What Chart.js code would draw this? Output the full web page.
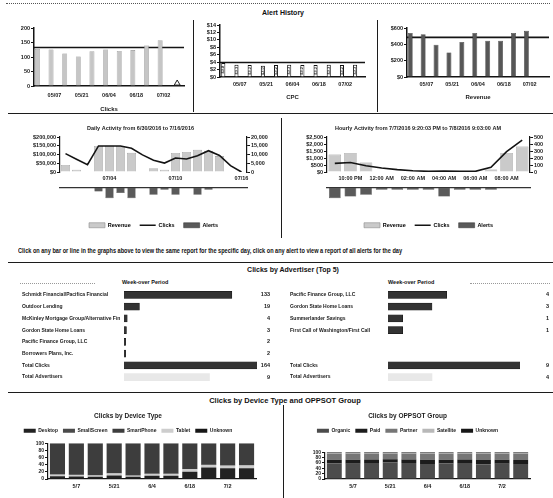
<!DOCTYPE html>
<html>
<head>
<meta charset="utf-8">
<title>Alert History</title>
<script src="https://cdn.jsdelivr.net/npm/chart.js@4.4.1/dist/chart.umd.min.js"></script>
<style>
  html,body{margin:0;padding:0;background:#fff;}
  body{position:relative;width:553px;height:498px;overflow:hidden;font-family:"Liberation Sans",Arial,sans-serif;color:#111;}
  canvas{position:absolute;display:block;}
  .rule{position:absolute;height:0;border-top:1.5px solid #1c1c1c;}
  .rule.thin{border-top:1px dotted #555;}
  .dots{position:absolute;height:0;border-top:1px dotted #999;}
  .vrule{position:absolute;width:0;border-left:1.5px solid #1c1c1c;}
  .txt{position:absolute;white-space:nowrap;line-height:1;color:#111;}
  .head{font-weight:bold;text-align:center;}
  .narrow{font-family:"Liberation Sans Narrow","Liberation Sans",Arial,sans-serif;font-weight:bold;}
</style>
</head>
<body>
<div class="rule thin" style="left:6px;top:3px;width:544px"></div>
<div class="txt head" style="left:233px;top:9px;width:100px;font-size:7px">Alert History</div>

<canvas id="cClicks" width="184" height="96" style="left:6px;top:18px"></canvas>
<div class="vrule" style="left:193px;top:20px;height:92px"></div>
<canvas id="cCpc" width="178" height="86" style="left:196px;top:18px"></canvas>
<div class="vrule" style="left:377px;top:20px;height:92px"></div>
<canvas id="cRevenue" width="172" height="86" style="left:381px;top:18px"></canvas>
<div class="rule" style="left:8px;top:113px;width:545px"></div>

<canvas id="cDaily" width="281" height="66" style="left:0px;top:118px"></canvas>
<canvas id="cDailyAlerts" width="281" height="54" style="left:0px;top:184px"></canvas>
<div class="vrule" style="left:281px;top:118px;height:120px"></div>
<canvas id="cHourly" width="270" height="66" style="left:283px;top:118px"></canvas>
<canvas id="cHourlyAlerts" width="270" height="54" style="left:283px;top:184px"></canvas>

<div id="note" class="txt narrow" style="left:18px;top:247px;font-size:7px;transform-origin:0 50%">Click on any bar or line in the graphs above to view the same report for the specific day, click on any alert to view a report of all alerts for the day</div>
<div class="rule" style="left:8px;top:262px;width:545px"></div>
<div class="txt head" style="left:213px;top:266px;width:160px;font-size:7px">Clicks by Advertiser (Top 5)</div>

<div class="dots" style="left:20px;top:283px;width:75px"></div>
<div class="txt narrow" style="left:122px;top:280px;font-size:5.5px">Week-over Period</div>
<div class="dots" style="left:470px;top:283px;width:80px"></div>
<div class="txt narrow" style="left:388px;top:280px;font-size:5.5px">Week-over Period</div>
<canvas id="cAdvLeft" width="256" height="100" style="left:18px;top:286px"></canvas>
<canvas id="cAdvRight" width="267" height="100" style="left:286px;top:286px"></canvas>

<div class="rule" style="left:8px;top:392px;width:545px"></div>
<div class="txt head" style="left:185px;top:397px;width:200px;font-size:7.5px">Clicks by Device Type and OPPSOT Group</div>
<div class="vrule" style="left:283px;top:405px;height:93px"></div>
<canvas id="cDevice" width="281" height="90" style="left:0px;top:408px"></canvas>
<canvas id="cGroup" width="268" height="90" style="left:285px;top:408px"></canvas>

<script>
// ---- weekly alert history ----
const weeks = ['04/30','05/07','05/14','05/21','05/28','06/04','06/11','06/18','06/25','07/02','07/09'];
const weekClicks = [128,126,112,102,120,126,121,124,140,158,2];
const weekClicksAvg = 133;
const weekAlertMarks = [null,null,null,null,null,null,null,null,null,null,9];
const weekCpc = [3.8,3.3,3.2,3.0,3.2,3.3,3.2,3.2,3.3,3.2,3.3];
const weekCpcAvg = 3.9;
const weekRevenue = [540,525,395,300,430,540,445,445,540,565,8];
const weekRevenueAvg = 485;

// ---- daily activity ----
const days = ['06/30','07/01','07/02','07/03','07/04','07/05','07/06','07/07','07/08','07/09','07/10','07/11','07/12','07/13','07/14','07/15','07/16'];
const dayRevenue = [40000,13000,0,149000,150000,149000,110000,0,22000,13000,109000,115000,127000,122000,91000,0,0];
const dayClicks = [10500,7300,4200,14900,14900,14900,13600,9800,6700,5100,8000,7450,9300,12200,9450,3600,0];
const dayAlerts = [0,0,0,2,6,3,6,0,4,1,4,0,4,1,0,0,0];

// ---- hourly activity ----
const hours = ['09:00 PM','10:00 PM','11:00 PM','12:00 AM','01:00 AM','02:00 AM','03:00 AM','04:00 AM','05:00 AM','06:00 AM','07:00 AM','08:00 AM','09:00 AM'];
const hourRevenue = [1250,1360,680,0,0,0,0,0,0,0,180,1360,1820];
const hourClicks = [123,136,90,57,34,18,9,14,11,9,68,290,455];
const hourAlerts = [6,5,4,1,1,1,1,5,1,1,1,0,0];

// ---- clicks by advertiser ----
const advLeftNames = ['Schmidt Financial/Pacifica Financial','Outdoor Lending','McKinley Mortgage Group/Alternative Fin','Gordon State Home Loans','Pacific Finance Group, LLC','Borrowers Plans, Inc.','Total Clicks','Total Advertisers'];
const advLeftClicks = [133,19,4,3,2,2,164,null];
const advLeftCount = [null,null,null,null,null,null,null,9];
const advRightNames = ['Pacific Finance Group, LLC','Gordon State Home Loans','Summerlander Savings','First Call of Washington/First Call','','','Total Clicks','Total Advertisers'];
const advRightClicks = [4,3,1,1,null,null,9,null];
const advRightCount = [null,null,null,null,null,null,null,4];

// ---- device type / OPPSOT group (share of clicks, %) ----
const weekShort = ['4/30','5/7','5/14','5/21','5/28','6/4','6/11','6/18','6/25','7/2','7/9'];
const devDesktop     = [8,7,6,10,6,9,9,20,32,30,30];
const devSmallScreen = [1,1,1,1,1,1,1,1,1,1,1];
const devSmartPhone  = [85,86,87,82,88,83,83,70,58,60,59];
const devTablet      = [4,4,4,5,3,5,5,7,7,7,8];
const devUnknown     = [2,2,2,2,2,2,2,2,2,2,2];
const deviceOrder = ['Desktop','SmallScreen','SmartPhone','Tablet','Unknown'];
const grpOrganic   = [58,57,60,62,60,56,58,60,55,57,56];
const grpPaid      = [14,15,13,12,13,16,14,13,16,15,15];
const grpPartner   = [22,22,21,20,21,22,22,21,23,22,23];
const grpSatellite = [2,2,2,2,2,2,2,2,2,2,2];
const grpUnknown   = [4,4,4,4,4,4,4,4,4,4,4];
const groupOrder = ['Organic','Paid','Partner','Satellite','Unknown'];

// ---- styling ----
const INK = '#141414';
const REV_LIGHT = '#cacaca', REV_LIGHT_EDGE = '#8c8c8c';
const ALERT_FILL = '#5a5a5a', ALERT_EDGE = '#2a2a2a';
const SANS = "'Liberation Sans', Arial, sans-serif";
const NARROW = "'Liberation Sans Narrow', 'Liberation Sans', Arial, sans-serif";

Chart.defaults.responsive = false;
Chart.defaults.animation = false;
Chart.defaults.events = [];
Chart.defaults.font.family = SANS;
Chart.defaults.font.size = 5.5;
Chart.defaults.font.weight = 'bold';
Chart.defaults.font.lineHeight = 1.1;
Chart.defaults.color = '#1a1a1a';
Chart.defaults.plugins.legend.display = false;
Chart.defaults.plugins.tooltip.enabled = false;

const money = v => '$' + Number(v).toLocaleString('en-US');
const plain = v => Number(v).toLocaleString('en-US');
function everyOther(value, index) { return index % 2 === 1 ? this.getLabelForValue(value) : ''; }

// writes each bar's value, turned sideways, inside the bar
const barText = {
  id: 'barText',
  afterDatasetsDraw(chart, args, opts) {
    if (!opts.show) return;
    const ctx = chart.ctx;
    const ds = chart.data.datasets[0];
    ctx.save();
    ctx.font = 'bold 4px ' + SANS;
    ctx.fillStyle = '#333';
    ctx.textAlign = 'center';
    ctx.textBaseline = 'middle';
    chart.getDatasetMeta(0).data.forEach((bar, i) => {
      ctx.save();
      ctx.translate(bar.x, (bar.y + bar.base) / 2);
      ctx.rotate(-Math.PI / 2);
      ctx.fillText('$' + ds.data[i].toFixed(1), 0, 0);
      ctx.restore();
    });
    ctx.restore();
  }
};

function weeklyChart(id, o) {
  const datasets = [
    { type: 'bar', data: o.values, backgroundColor: o.fill, borderColor: o.edge, borderWidth: o.edgeW,
      barPercentage: o.barPct, categoryPercentage: 1, order: 1 },
    { type: 'line', xAxisID: 'xFull', data: [{ x: 0, y: o.avg }, { x: 1, y: o.avg }],
      borderColor: INK, borderWidth: 1.6, pointRadius: 0, order: o.lineOrder }
  ].concat(o.extra || []);
  return new Chart(document.getElementById(id), {
    data: { labels: weeks, datasets },
    plugins: [barText],
    options: {
      layout: { padding: o.pad },
      plugins: { barText: { show: !!o.valueText } },
      scales: {
        x: { type: 'category', offset: true, grid: { display: false, drawTicks: false }, border: { color: INK, width: 1.5 },
             ticks: { autoSkip: false, maxRotation: 0, padding: o.tickPad, callback: everyOther },
             title: { display: true, text: o.title, font: { size: 6, weight: 'bold' }, padding: { top: 0, bottom: o.titleBottom } },
             afterFit(s) { s.height = o.xH; } },
        xFull: { type: 'linear', display: false, min: 0, max: 1 },
        y: { min: 0, max: o.max, border: { color: INK, width: 1.5 },
             grid: { drawOnChartArea: false, tickLength: 3, color: INK },
             ticks: { stepSize: o.step, autoSkip: false, padding: 1, callback: o.fmt, font: { lineHeight: 1 } },
             afterFit(s) { s.width = o.yW; } }
      }
    }
  });
}

weeklyChart('cClicks', {
  values: weekClicks, avg: weekClicksAvg, fill: '#c6c6c6', edge: '#8a8a8a', edgeW: 0.6, barPct: 0.72,
  lineOrder: 2, max: 200, step: 50, fmt: plain, title: 'Clicks',
  pad: { top: 10, right: 6, left: 0, bottom: 0 }, yW: 28, xH: 28, tickPad: 6, titleBottom: 1,
  extra: [{ type: 'line', data: weekAlertMarks, showLine: false, pointStyle: 'triangle', pointRadius: 3.4,
            pointBackgroundColor: '#fff', pointBorderColor: '#222', pointBorderWidth: 1, order: 0 }]
});
weeklyChart('cCpc', {
  values: weekCpc, avg: weekCpcAvg, fill: '#ffffff', edge: '#111', edgeW: 1, barPct: 0.62,
  lineOrder: 0, max: 14, step: 2, fmt: money, title: 'CPC', valueText: true,
  pad: { top: 7, right: 9, left: 0, bottom: 0 }, yW: 24, xH: 27, tickPad: 4, titleBottom: 3
});
weeklyChart('cRevenue', {
  values: weekRevenue, avg: weekRevenueAvg, fill: '#575757', edge: '#2e2e2e', edgeW: 0.6, barPct: 0.76,
  lineOrder: 2, max: 600, step: 200, fmt: money, title: 'Revenue',
  pad: { top: 10, right: 4, left: 0, bottom: 0 }, yW: 26, xH: 27, tickPad: 4, titleBottom: 3
});

function activityChart(id, o) {
  return new Chart(document.getElementById(id), {
    data: { labels: o.labels, datasets: [
      { type: 'line', label: 'Clicks', data: o.clicks, yAxisID: 'y1', borderColor: INK, borderWidth: 1.6,
        pointRadius: 0, tension: 0, order: 0 },
      { type: 'bar', label: 'Revenue', data: o.revenue, yAxisID: 'y', backgroundColor: REV_LIGHT,
        borderColor: REV_LIGHT_EDGE, borderWidth: 0.6, barPercentage: 0.8, categoryPercentage: 1, order: 1 }
    ]},
    options: {
      layout: { padding: 0 },
      plugins: { title: { display: true, text: o.title, color: '#1a1a1a', font: { size: 5.5, weight: 'bold' }, padding: { top: 7, bottom: 6 } } },
      scales: {
        x: { grid: { display: false, drawTicks: false }, border: { display: false },
             ticks: { autoSkip: false, maxRotation: 0, padding: 3, callback: o.tick }, afterFit(s) { s.height = 12; } },
        y: { position: 'left', min: 0, max: o.revMax, border: { color: INK, width: 1.2 },
             grid: { drawOnChartArea: false, tickLength: 3, color: INK },
             ticks: { stepSize: o.revStep, padding: 1, autoSkip: false, callback: money, font: { lineHeight: 1 } },
             afterFit(s) { s.width = o.leftW; } },
        y1: { position: 'right', min: 0, max: o.clickMax, border: { color: INK, width: 1.2 },
              grid: { drawOnChartArea: false, tickLength: 3, color: INK },
              ticks: { stepSize: o.clickStep, padding: 1, autoSkip: false, callback: plain, font: { lineHeight: 1 } },
              afterFit(s) { s.width = o.rightW; } }
      }
    }
  });
}

function alertsStrip(id, o) {
  return new Chart(document.getElementById(id), {
    type: 'bar',
    data: { labels: o.labels, datasets: [
      { label: 'Alerts', data: o.alerts, backgroundColor: ALERT_FILL, borderColor: ALERT_EDGE, borderWidth: 0.5,
        barPercentage: 0.75, categoryPercentage: 1 }
    ]},
    options: {
      layout: { padding: { left: o.leftW, right: o.rightW, top: 4, bottom: 0 } },
      plugins: {
        legend: { display: true, position: 'bottom',
          labels: { usePointStyle: true, pointStyleWidth: 16, boxHeight: 5, padding: 9, color: '#1a1a1a',
                    font: { size: 5.5, weight: 'bold' },
                    generateLabels: () => [
                      { text: 'Revenue', fillStyle: REV_LIGHT, strokeStyle: REV_LIGHT_EDGE, lineWidth: 0.6, pointStyle: 'rect', hidden: false, datasetIndex: 0 },
                      { text: 'Clicks', fillStyle: INK, strokeStyle: INK, lineWidth: 1.6, pointStyle: 'line', hidden: false, datasetIndex: 1 },
                      { text: 'Alerts', fillStyle: ALERT_FILL, strokeStyle: ALERT_EDGE, lineWidth: 0.5, pointStyle: 'rect', hidden: false, datasetIndex: 2 }
                    ] } }
      },
      scales: {
        x: { position: 'top', grid: { display: false, drawTicks: false }, ticks: { display: false },
             border: { color: '#333', width: 1.2 } },
        y: { display: false, reverse: true, min: 0, max: 15 }
      }
    }
  });
}

activityChart('cDaily', {
  labels: days, clicks: dayClicks, revenue: dayRevenue,
  title: 'Daily Activity from 6/30/2016 to 7/16/2016',
  revMax: 200000, revStep: 50000, clickMax: 20000, clickStep: 5000, leftW: 60, rightW: 34,
  tick(value, index) { return (days.length - 1 - index) % 6 === 0 ? this.getLabelForValue(value) : ''; }
});
alertsStrip('cDailyAlerts', { labels: days, alerts: dayAlerts, leftW: 60, rightW: 34 });

activityChart('cHourly', {
  labels: hours, clicks: hourClicks, revenue: hourRevenue,
  title: 'Hourly Activity from 7/7/2016 9:20:03 PM to 7/8/2016 9:03:00 AM',
  revMax: 2500, revStep: 500, clickMax: 500, clickStep: 100, leftW: 44, rightW: 23,
  tick: everyOther
});
alertsStrip('cHourlyAlerts', { labels: hours, alerts: hourAlerts, leftW: 44, rightW: 23 });

// squeeze the instruction line to its column width
(function () {
  const note = document.getElementById('note');
  const w = note.getBoundingClientRect().width;
  note.style.transform = 'scaleX(' + (384 / w) + ')';
})();

function advertiserChart(id, o) {
  const valueText = o.clicks.map((c, i) => String(c ?? o.count[i] ?? ''));
  return new Chart(document.getElementById(id), {
    type: 'bar',
    data: { labels: o.names, datasets: [
      { data: o.clicks, xAxisID: 'x', yAxisID: 'y', backgroundColor: '#333', borderColor: '#111', borderWidth: 0.5,
        barThickness: 7, grouped: false },
      { data: o.count, xAxisID: 'xCount', yAxisID: 'y', backgroundColor: '#e8e8e8', barThickness: 7, grouped: false }
    ]},
    options: {
      indexAxis: 'y',
      layout: { padding: { left: 4, right: 4, top: 2, bottom: 0 } },
      scales: {
        x: { display: false, min: 0, max: o.max },
        xCount: { display: false, min: 0, max: o.countMax },
        y: { grid: { display: false }, border: { display: false },
             ticks: { crossAlign: 'far', autoSkip: false, padding: 0, font: { size: 5, family: NARROW } },
             afterFit(s) { s.width = o.labelW; } },
        yVal: { type: 'category', position: 'right', labels: valueText, offset: true,
                grid: { display: false }, border: { display: false },
                ticks: { crossAlign: 'far', autoSkip: false, padding: 0, font: { size: 5.5 } },
                afterFit(s) { s.width = o.valueW; } }
      }
    }
  });
}

advertiserChart('cAdvLeft', { names: advLeftNames, clicks: advLeftClicks, count: advLeftCount,
  max: 164, countMax: 14, labelW: 102, valueW: 13 });
advertiserChart('cAdvRight', { names: advRightNames, clicks: advRightClicks, count: advRightCount,
  max: 9, countMax: 12, labelW: 98, valueW: 29 });

function shareChart(id, o) {
  const series = o.series.map(s => Object.assign({ xAxisID: 'x', yAxisID: 'y' }, s));
  return new Chart(document.getElementById(id), {
    type: 'bar',
    data: { labels: weekShort, datasets: series },
    options: {
      datasets: { bar: { barPercentage: 0.8, categoryPercentage: 1 } },
      layout: { padding: { left: 0, right: o.right, top: 0, bottom: 0 } },
      plugins: {
        title: { display: true, text: o.title, color: '#1a1a1a', font: { size: 6.5, weight: 'bold' }, padding: { top: 5, bottom: 3 } },
        legend: { display: true, position: 'top',
          labels: { boxWidth: 12, boxHeight: 4, padding: 5, color: '#1a1a1a', font: { size: 5, weight: 'bold' },
                    sort: (a, b) => o.order.indexOf(a.text) - o.order.indexOf(b.text) } }
      },
      scales: {
        x: { stacked: true, grid: { display: false, drawTicks: false }, border: { color: INK, width: 1.2 },
             ticks: { autoSkip: false, maxRotation: 0, padding: 4, callback: everyOther, font: { size: 5.5 } },
             afterFit(s) { s.height = 19; } },
        y: { stacked: true, min: 0, max: 100, border: { color: INK, width: 1.2 },
             grid: { drawOnChartArea: false, tickLength: 3, color: INK },
             ticks: { stepSize: 20, autoSkip: false, padding: 1, font: { size: 5, lineHeight: 1 } },
             afterFit(s) { s.width = o.yW; } },
        gap: { type: 'category', position: 'top', display: true, grid: { display: false, drawTicks: false },
               border: { display: false }, ticks: { display: false }, afterFit(s) { s.height = o.gap; } }
      }
    }
  });
}

shareChart('cDevice', {
  title: 'Clicks by Device Type', order: deviceOrder, right: 25, yW: 48, gap: 0,
  series: [
    { label: 'Desktop', data: devDesktop, backgroundColor: '#222' },
    { label: 'Tablet', data: devTablet, backgroundColor: '#cdcdcd' },
    { label: 'SmallScreen', data: devSmallScreen, backgroundColor: '#4a4a4a' },
    { label: 'SmartPhone', data: devSmartPhone, backgroundColor: '#3d3d3d' },
    { label: 'Unknown', data: devUnknown, backgroundColor: '#161616' }
  ]
});
shareChart('cGroup', {
  title: 'Clicks by OPPSOT Group', order: groupOrder, right: 23, yW: 40, gap: 9,
  series: [
    { label: 'Organic', data: grpOrganic, backgroundColor: '#4c4c4c' },
    { label: 'Paid', data: grpPaid, backgroundColor: '#1c1c1c' },
    { label: 'Partner', data: grpPartner, backgroundColor: '#767676' },
    { label: 'Satellite', data: grpSatellite, backgroundColor: '#b8b8b8' },
    { label: 'Unknown', data: grpUnknown, backgroundColor: '#171717' }
  ]
});
</script>
</body>
</html>
